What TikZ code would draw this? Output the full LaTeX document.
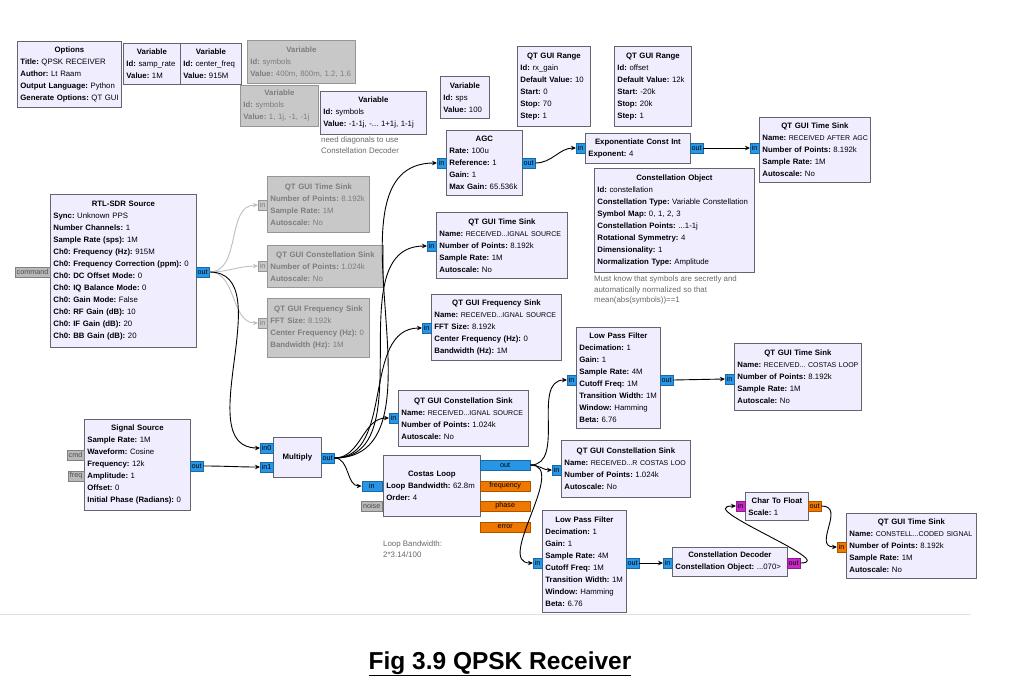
\documentclass[tikz,border=0pt]{standalone}
\usepackage{fontspec}
\setmainfont{Liberation Sans}
\usetikzlibrary{arrows.meta}

\definecolor{blkfill}{RGB}{240,237,255}
\definecolor{blkline}{RGB}{100,100,110}
\definecolor{offfill}{RGB}{200,200,200}
\definecolor{offline}{RGB}{150,150,150}
\definecolor{offtext}{RGB}{125,125,125}
\definecolor{cplx}{RGB}{40,150,230}
\definecolor{flt}{RGB}{240,120,0}
\definecolor{byt}{RGB}{200,40,200}
\definecolor{msgfill}{RGB}{185,185,185}
\definecolor{notetext}{RGB}{105,105,105}

\newcommand{\bt}[1]{\makebox[\linewidth]{\textbf{#1}}}
\newcommand{\kv}[2]{\mbox{\textbf{#1:} #2}}
\newcommand{\nm}[1]{\mbox{\textbf{Name:} {\fontsize{7}{12}\selectfont #1}}}

\begin{document}
\begin{tikzpicture}[x=1pt,y=-1pt,
    blk/.style={draw=blkline, fill=blkfill, anchor=north west, align=left,
      inner xsep=3pt, inner ysep=2pt, line width=0.8pt,
      font=\fontsize{7.8}{12}\selectfont\frenchspacing},
    offblk/.style={blk, draw=offline, fill=offfill, text=offtext},
    wh/.style 2 args={minimum width=#1pt, text width={#1pt-6pt}, minimum height=#2pt},
    port/.style={fill=cplx, draw=cplx!70!black, inner xsep=1.5pt, inner ysep=0pt,
      minimum height=10pt, line width=0.4pt, font=\fontsize{7.2}{8}\selectfont},
    fport/.style={port, fill=flt, draw=flt!70!black},
    bport/.style={port, fill=byt, draw=byt!70!black},
    mport/.style={port, fill=msgfill, draw=gray, text=black!70},
    offport/.style={port, fill=offfill, draw=offline, text=offtext},
    note/.style={anchor=north west, align=left, inner sep=0pt, text=notetext,
      font=\fontsize{7.9}{10.5}\selectfont},
    conn/.style={-{Stealth[length=5pt,width=4.5pt]}, line width=0.9pt},
    offconn/.style={conn, draw=black!25}]

\fill[white] (0,0) rectangle (1017,696);
\useasboundingbox (0,0) rectangle (1017,696);

% variables and options
\node[blk, wh={104}{66}] (opts) at (17,41) {\bt{Options}\\ \kv{Title}{QPSK RECEIVER}\\ \kv{Author}{Lt Raam}\\ \kv{Output Language}{Python}\\ \kv{Generate Options}{QT GUI}};
\node[blk, wh={57}{41}] (varsr) at (123,43) {\bt{Variable}\\ \kv{Id}{samp\_rate}\\ \kv{Value}{1M}};
\node[blk, wh={61}{41}] (varcf) at (180,43) {\bt{Variable}\\ \kv{Id}{center\_freq}\\ \kv{Value}{915M}};
\node[offblk, wh={108}{43}] (varsyma) at (247,40) {\bt{Variable}\\ \kv{Id}{symbols}\\ \kv{Value}{400m, 800m, 1.2, 1.6}};
\node[offblk, wh={78}{41}] (varsymb) at (240,85) {\bt{Variable}\\ \kv{Id}{symbols}\\ \kv{Value}{1, 1j, -1, -1j}};
\node[blk, wh={106}{43}] (varsymc) at (320,91) {\bt{Variable}\\ \kv{Id}{symbols}\\ \kv{Value}{-1-1j, -... 1+1j, 1-1j}};
\node[note] (notesym) at (321,137) {need diagonals to use\\Constellation Decoder};
\node[blk, wh={49}{42}] (varsps) at (440,76) {\bt{Variable}\\ \kv{Id}{sps}\\ \kv{Value}{100}};
\node[blk, wh={73}{80}] (rngrx) at (517,46) {\bt{QT GUI Range}\\ \kv{Id}{rx\_gain}\\ \kv{Default Value}{10}\\ \kv{Start}{0}\\ \kv{Stop}{70}\\ \kv{Step}{1}};
\node[blk, wh={77}{80}] (rngoff) at (614,46) {\bt{QT GUI Range}\\ \kv{Id}{offset}\\ \kv{Default Value}{12k}\\ \kv{Start}{-20k}\\ \kv{Stop}{20k}\\ \kv{Step}{1}};
\node[blk, wh={160}{104}] (cobj) at (594,168) {\bt{Constellation Object}\\ \kv{Id}{constellation}\\ \kv{Constellation Type}{Variable Constellation}\\ \kv{Symbol Map}{0, 1, 2, 3}\\ \kv{Constellation Points}{...1-1j}\\ \kv{Rotational Symmetry}{4}\\ \kv{Dimensionality}{1}\\ \kv{Normalization Type}{Amplitude}};
\node[note] (notecobj) at (594,276) {Must know that symbols are secretly and\\automatically normalized so that\\mean(abs(symbols))==1};

% sources
\node[blk, wh={146}{153}] (rtl) at (50,194) {\bt{RTL-SDR Source}\\ \kv{Sync}{Unknown PPS}\\ \kv{Number Channels}{1}\\ \kv{Sample Rate (sps)}{1M}\\ \kv{Ch0: Frequency (Hz)}{915M}\\ \kv{Ch0: Frequency Correction (ppm)}{0}\\ \kv{Ch0: DC Offset Mode}{0}\\ \kv{Ch0: IQ Balance Mode}{0}\\ \kv{Ch0: Gain Mode}{False}\\ \kv{Ch0: RF Gain (dB)}{10}\\ \kv{Ch0: IF Gain (dB)}{20}\\ \kv{Ch0: BB Gain (dB)}{20}};
\node[mport, anchor=east] (rtlcmd) at (50,272) {command};
\node[port, anchor=west] (rtlout) at (196,272) {out};
\node[blk, wh={106}{91}] (sig) at (84,419) {\bt{Signal Source}\\ \kv{Sample Rate}{1M}\\ \kv{Waveform}{Cosine}\\ \kv{Frequency}{12k}\\ \kv{Amplitude}{1}\\ \kv{Offset}{0}\\ \kv{Initial Phase (Radians)}{0}};
\node[mport, anchor=east] (sigcmd) at (84,455) {cmd};
\node[mport, anchor=east] (sigfreq) at (84,476) {freq};
\node[port, anchor=west] (sigout) at (190,466) {out};

% disabled sinks
\node[offblk, wh={102}{56}] (tsoff) at (267,176) {\bt{QT GUI Time Sink}\\ \kv{Number of Points}{8.192k}\\ \kv{Sample Rate}{1M}\\ \kv{Autoscale}{No}};
\node[offport, anchor=east] (tsoffin) at (267,205) {in};
\node[offblk, wh={116}{42}] (csoff) at (267,245) {\bt{QT GUI Constellation Sink}\\ \kv{Number of Points}{1.024k}\\ \kv{Autoscale}{No}};
\node[offport, anchor=east] (csoffin) at (267,266) {in};
\node[offblk, wh={102}{59}] (fsoff) at (267,298) {\bt{QT GUI Frequency Sink}\\ \kv{FFT Size}{8.192k}\\ \kv{Center Frequency (Hz)}{0}\\ \kv{Bandwidth (Hz)}{1M}};
\node[offport, anchor=east] (fsoffin) at (267,323) {in};

% multiply
\node[blk, wh={48}{40}] (mult) at (273,437) {\bt{Multiply}};
\node[port, anchor=east] (multin0) at (273,448) {in0};
\node[port, anchor=east] (multin1) at (273,467) {in1};
\node[port, anchor=west] (multout) at (321,458) {out};

% receive chain
\node[blk, wh={76}{65}] (agc) at (446,130) {\bt{AGC}\\ \kv{Rate}{100u}\\ \kv{Reference}{1}\\ \kv{Gain}{1}\\ \kv{Max Gain}{65.536k}};
\node[port, anchor=east] (agcin) at (446,163) {in};
\node[port, anchor=west] (agcout) at (522,163) {out};
\node[blk, wh={105}{30}] (expc) at (585,133) {\bt{Exponentiate Const Int}\\ \kv{Exponent}{4}};
\node[port, anchor=east] (expin) at (585,148) {in};
\node[port, anchor=west] (expout) at (690,148) {out};
\node[blk, wh={111}{65}] (tsagc) at (759,117) {\bt{QT GUI Time Sink}\\ \nm{RECEIVED AFTER AGC}\\ \kv{Number of Points}{8.192k}\\ \kv{Sample Rate}{1M}\\ \kv{Autoscale}{No}};
\node[port, anchor=east] (tsagcin) at (759,148) {in};
\node[blk, wh={131}{66}] (tsrx) at (436,212) {\bt{QT GUI Time Sink}\\ \nm{RECEIVED...IGNAL SOURCE}\\ \kv{Number of Points}{8.192k}\\ \kv{Sample Rate}{1M}\\ \kv{Autoscale}{No}};
\node[port, anchor=east] (tsrxin) at (436,246) {in};
\node[blk, wh={130}{66}] (fsrx) at (431,294) {\bt{QT GUI Frequency Sink}\\ \nm{RECEIVED...IGNAL SOURCE}\\ \kv{FFT Size}{8.192k}\\ \kv{Center Frequency (Hz)}{0}\\ \kv{Bandwidth (Hz)}{1M}};
\node[port, anchor=east] (fsrxin) at (431,328) {in};
\node[blk, wh={130}{56}] (csrx) at (398,390) {\bt{QT GUI Constellation Sink}\\ \nm{RECEIVED...IGNAL SOURCE}\\ \kv{Number of Points}{1.024k}\\ \kv{Autoscale}{No}};
\node[port, anchor=east] (csrxin) at (398,418) {in};

% costas loop
\node[blk, wh={97}{61}] (costas) at (383,455) {\bt{Costas Loop}\\ \kv{Loop Bandwidth}{62.8m}\\ \kv{Order}{4}};
\node[port, anchor=east, minimum width=20pt] (costasin) at (382,486) {in};
\node[mport, anchor=east, minimum width=20pt] (costasnoise) at (382,506) {noise};
\node[port, anchor=west, minimum width=50pt] (costasout) at (480,465) {out};
\node[fport, anchor=west, minimum width=50pt] (costasfreq) at (480,486) {frequency};
\node[fport, anchor=west, minimum width=50pt] (costasphase) at (480,506) {phase};
\node[fport, anchor=west, minimum width=50pt] (costaserr) at (480,527) {error};
\node[note] (notecostas) at (383,541) {Loop Bandwidth:\\2*3.14/100};

\node[blk, wh={84}{101}] (lpfa) at (576,327) {\bt{Low Pass Filter}\\ \kv{Decimation}{1}\\ \kv{Gain}{1}\\ \kv{Sample Rate}{4M}\\ \kv{Cutoff Freq}{1M}\\ \kv{Transition Width}{1M}\\ \kv{Window}{Hamming}\\ \kv{Beta}{6.76}};
\node[port, anchor=east] (lpfain) at (576,380) {in};
\node[port, anchor=west] (lpfaout) at (660,380) {out};
\node[blk, wh={127}{67}] (tscl) at (734,343) {\bt{QT GUI Time Sink}\\ \nm{RECEIVED... COSTAS LOOP}\\ \kv{Number of Points}{8.192k}\\ \kv{Sample Rate}{1M}\\ \kv{Autoscale}{No}};
\node[port, anchor=east] (tsclin) at (734,379) {in};
\node[blk, wh={129}{57}] (cscl) at (561,440) {\bt{QT GUI Constellation Sink}\\ \nm{RECEIVED...R COSTAS LOO}\\ \kv{Number of Points}{1.024k}\\ \kv{Autoscale}{No}};
\node[port, anchor=east] (csclin) at (561,470) {in};
\node[blk, wh={84}{102}] (lpfb) at (542,510) {\bt{Low Pass Filter}\\ \kv{Decimation}{1}\\ \kv{Gain}{1}\\ \kv{Sample Rate}{4M}\\ \kv{Cutoff Freq}{1M}\\ \kv{Transition Width}{1M}\\ \kv{Window}{Hamming}\\ \kv{Beta}{6.76}};
\node[port, anchor=east] (lpfbin) at (542,563) {in};
\node[port, anchor=west] (lpfbout) at (626,563) {out};

% decoder
\node[blk, wh={115}{29}] (cdec) at (672,547) {\bt{Constellation Decoder}\\ \kv{Constellation Object}{...070>}};
\node[port, anchor=east] (cdecin) at (672,563) {in};
\node[bport, anchor=west] (cdecout) at (787,563) {out};
\node[blk, wh={63}{28}] (ctf) at (745,492) {\bt{Char To Float}\\ \kv{Scale}{1}};
\node[bport, anchor=east] (ctfin) at (745,506) {in};
\node[fport, anchor=west] (ctfout) at (808,506) {out};
\node[blk, wh={130}{65}] (tscd) at (846,513) {\bt{QT GUI Time Sink}\\ \nm{CONSTELL...CODED SIGNAL}\\ \kv{Number of Points}{8.192k}\\ \kv{Sample Rate}{1M}\\ \kv{Autoscale}{No}};
\node[fport, anchor=east] (tscdin) at (846,547) {in};

% connections
\draw[offconn] (rtlout.east) to[out=0,in=180] (tsoffin.west);
\draw[offconn] (rtlout.east) to[out=0,in=180] (csoffin.west);
\draw[offconn] (rtlout.east) to[out=0,in=180] (fsoffin.west);
\draw[conn] (rtlout.east) to[out=0,in=180] (multin0.west);
\draw[conn] (sigout.east) to[out=0,in=180] (multin1.west);
\draw[conn] (multout.east) to[out=0,in=180] (agcin.west);
\draw[conn] (multout.east) to[out=0,in=180] (tsrxin.west);
\draw[conn] (multout.east) to[out=0,in=180] (fsrxin.west);
\draw[conn] (multout.east) to[out=0,in=180] (csrxin.west);
\draw[conn] (multout.east) to[out=0,in=180] (costasin.west);
\draw[conn] (agcout.east) to[out=0,in=180] (expin.west);
\draw[conn] (expout.east) -- (tsagcin.west);
\draw[conn] (costasout.east) to[out=0,in=180] (lpfain.west);
\draw[conn] (costasout.east) to[out=0,in=180] (csclin.west);
\draw[conn] (costasout.east) to[out=0,in=180] (lpfbin.west);
\draw[conn] (lpfaout.east) -- (tsclin.west);
\draw[conn] (lpfbout.east) -- (cdecin.west);
\draw[conn] (cdecout.east) .. controls +(40,0) and +(-45,0) .. (ctfin.west);
\draw[conn] (ctfout.east) .. controls +(25,0) and +(-25,0) .. (tscdin.west);

\draw[black!12] (0,614) -- (970,614);
\node[anchor=base, font=\bfseries\fontsize{24.5}{28}\selectfont] (caption) at (500,669) {\underline{Fig 3.9 QPSK Receiver}};
\end{tikzpicture}
\end{document}
